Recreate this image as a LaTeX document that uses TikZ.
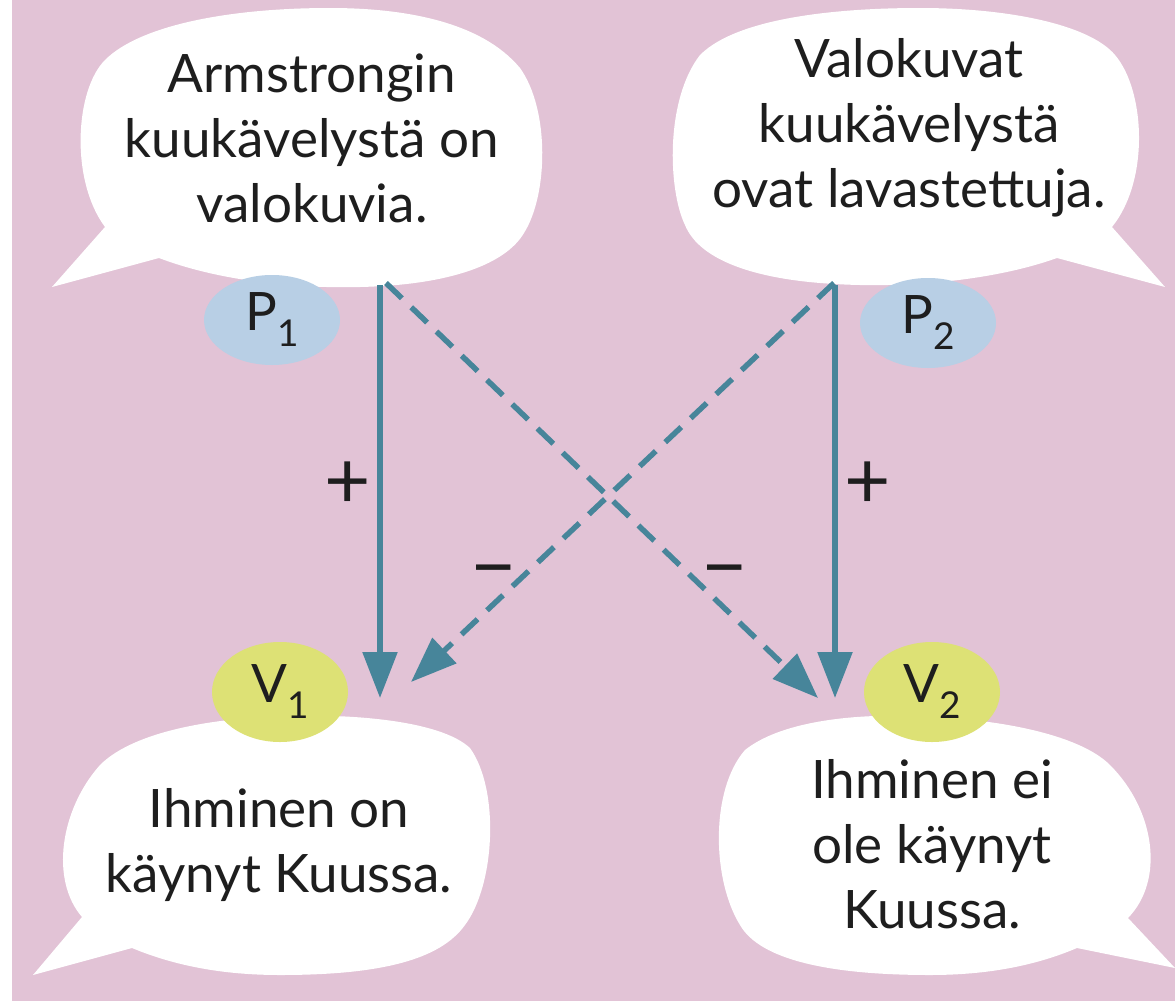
\documentclass[tikz,border=0pt]{standalone}
\usepackage{fontspec}
\setmainfont{Lato}
\usetikzlibrary{arrows.meta,shapes.geometric}
\definecolor{bgpink}{HTML}{E2C3D6}
\definecolor{pblue}{HTML}{B8CFE5}
\definecolor{vyellow}{HTML}{DDE175}
\definecolor{arrowteal}{HTML}{47859A}
\definecolor{txt}{HTML}{1E1E1E}
\newcommand{\lbl}[2]{#1\raisebox{-16pt}{\fontsize{37}{37}\selectfont #2}}
\begin{document}
\begin{tikzpicture}[x=1pt,y=-1pt,
  bubble/.style={fill=white,draw=none},
  bubbletext/.style={align=center,font=\fontsize{53}{65}\selectfont,text=txt,inner sep=0pt,anchor=base},
  pnode/.style={ellipse,fill=pblue,minimum width=136pt,minimum height=90pt,inner sep=0pt,font=\fontsize{53}{53}\selectfont,text=txt},
  vnode/.style={ellipse,fill=vyellow,minimum width=136pt,minimum height=100pt,inner sep=0pt,font=\fontsize{53}{53}\selectfont,text=txt},
  link/.style={draw=arrowteal,line width=5.5pt,-{Triangle[length=46pt,width=34pt]}},
  neglink/.style={link,dash pattern=on 22pt off 13pt},
  sign/.style={font=\fontsize{80}{80}\selectfont,text=txt,inner sep=0pt}]
\useasboundingbox (0,0) rectangle (1175,1001);
\fill[white] (0,0) rectangle (1175,1001);
\fill[bgpink] (12,0) rectangle (1175,1001);

% top-left bubble
\fill[bubble] (159,258) .. controls (230,285) and (320,290) .. (383,286)
  .. controls (450,282) and (505,265) .. (524,233)
  .. controls (548,195) and (550,110) .. (520,68)
  .. controls (480,20) and (400,8) .. (330,8)
  .. controls (230,8) and (140,25) .. (105,60)
  .. controls (75,90) and (70,180) .. (105,227)
  -- (52,287) -- cycle;
% top-right bubble
\fill[bubble] (1057,258) .. controls (990,282) and (900,288) .. (835,284)
  .. controls (760,280) and (700,262) .. (685,225)
  .. controls (668,190) and (665,100) .. (700,55)
  .. controls (740,15) and (850,8) .. (920,8)
  .. controls (1010,8) and (1090,25) .. (1115,55)
  .. controls (1145,90) and (1150,180) .. (1112,227)
  -- (1165,287) -- cycle;
% bottom-left bubble
\fill[bubble] (132,948) .. controls (180,968) and (230,975) .. (280,975)
  .. controls (380,975) and (440,960) .. (465,925)
  .. controls (495,885) and (500,790) .. (470,748)
  .. controls (440,720) and (350,714) .. (290,716)
  .. controls (200,718) and (130,735) .. (100,765)
  .. controls (60,810) and (50,880) .. (82,917)
  -- (33,975) -- cycle;
% bottom-right bubble
\fill[bubble] (1077,948) .. controls (1030,968) and (980,975) .. (930,975)
  .. controls (830,975) and (760,960) .. (740,925)
  .. controls (712,880) and (710,790) .. (745,750)
  .. controls (780,722) and (850,714) .. (910,716)
  .. controls (1000,718) and (1080,735) .. (1110,765)
  .. controls (1155,810) and (1165,880) .. (1128,918)
  -- (1175,968) -- cycle;

% texts (anchor base = baseline of last line)
\node[bubbletext] (t1) at (312,222) {Armstrongin\\kuukävelystä on\\valokuvia.};
\node[bubbletext] (t2) at (909,207) {Valokuvat\\kuukävelystä\\ovat lavastettuja.};
\node[bubbletext] (t3) at (279,892) {Ihminen on\\käynyt Kuussa.};
\node[bubbletext] (t4) at (932,928) {Ihminen ei\\ole käynyt\\Kuussa.};

% labels
\node[pnode] (P1) at (272,320) {\lbl{P}{1}};
\node[pnode] (P2) at (928,323) {\lbl{P}{2}};
\node[vnode] (V1) at (280,692) {\lbl{V}{1}};
\node[vnode] (V2) at (932,692) {\lbl{V}{2}};

% connector anchors
\coordinate (p1a) at (380,285);
\coordinate (p1b) at (386,283);
\coordinate (p2a) at (835,285);
\coordinate (p2b) at (834,283);
\coordinate (v1a) at (380,698);
\coordinate (v1b) at (411,682);
\coordinate (v2a) at (835,698);
\coordinate (v2b) at (818,698);

\draw[link] (p1a) -- (v1a);
\draw[link] (p2a) -- (v2a);
\draw[neglink] (p1b) -- (v2b);
\draw[neglink] (p2b) -- (v1b);

\node[sign] (s1) at (348,485) {+};
\node[sign] (s2) at (868,485) {+};
\node[sign] (s3) at (494,580) {−};
\node[sign] (s4) at (725,580) {−};
\end{tikzpicture}
\end{document}
